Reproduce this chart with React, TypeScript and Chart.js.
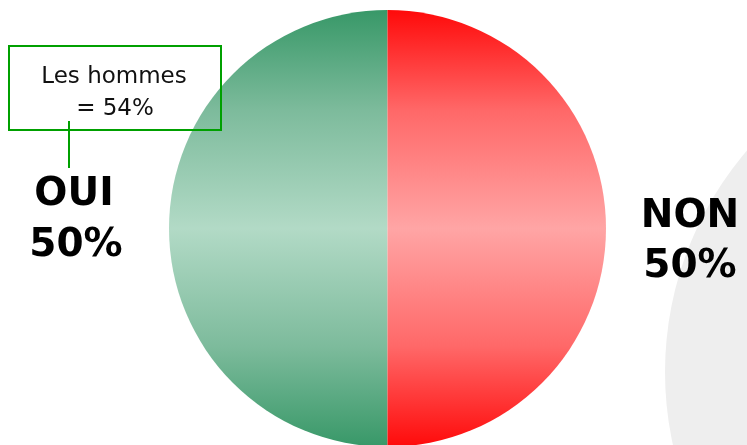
import React, { useEffect, useRef } from "react";
import { Chart, registerables } from "chart.js";

Chart.register(...registerables);

const categories = ["OUI", "NON"];
const values = [50, 50];
const valueLabels = ["50%", "50%"];
const annotationLines = ["Les hommes", "= 54%"];

const greenStops: [number, string][] = [
  [0, "#389868"],
  [0.23, "#7dbb9c"],
  [0.5, "#b2dac6"],
  [0.77, "#7dbb9c"],
  [1, "#389868"],
];
const redStops: [number, string][] = [
  [0, "#ff0a0a"],
  [0.23, "#ff6868"],
  [0.5, "#ffa5a5"],
  [0.77, "#ff6868"],
  [1, "#ff0a0a"],
];

export default function App() {
  const ref = useRef<HTMLCanvasElement | null>(null);

  useEffect(() => {
    const canvas = ref.current;
    if (!canvas) return;

    const bgPlugin = {
      id: "bgCircle",
      beforeDraw(chart: any) {
        const c = chart.ctx;
        c.save();
        c.fillStyle = "#eeeeee";
        c.beginPath();
        c.arc(1005, 372, 340, 0, Math.PI * 2);
        c.fill();
        c.restore();
      },
    };

    const labelPlugin = {
      id: "labels",
      afterDraw(chart: any) {
        const c = chart.ctx;
        c.save();
        c.fillStyle = "#000";
        c.textAlign = "center";
        c.textBaseline = "alphabetic";
        c.font = "bold 39px 'DejaVu Sans'";
        c.fillText(categories[0], 74, 205);
        c.fillText(valueLabels[0], 76, 256);
        c.fillText(categories[1], 690, 227);
        c.fillText(valueLabels[1], 690, 277);

        // annotation box
        c.strokeStyle = "#00a000";
        c.lineWidth = 2;
        c.strokeRect(9, 46, 212, 84);
        c.beginPath();
        c.moveTo(69, 121);
        c.lineTo(69, 168);
        c.stroke();
        c.fillStyle = "#111";
        c.font = "23px 'DejaVu Sans'";
        c.fillText(annotationLines[0], 114, 83);
        c.fillText(annotationLines[1], 115, 115);
        c.restore();
      },
    };

    const makeGrad = (chart: any, stops: [number, string][]) => {
      const area = chart.chartArea;
      if (!area) return stops[2][1];
      const g = chart.ctx.createLinearGradient(0, area.top, 0, area.bottom);
      stops.forEach(([o, col]) => g.addColorStop(o, col));
      return g;
    };

    const chart = new Chart(canvas, {
      type: "pie",
      data: {
        labels: categories,
        datasets: [
          {
            data: values,
            backgroundColor: (ctx: any) =>
              makeGrad(ctx.chart, ctx.dataIndex === 0 ? greenStops : redStops),
            borderWidth: 0,
          },
        ],
      },
      options: {
        responsive: false,
        animation: false,
        rotation: 180,
        layout: { padding: { top: 10, bottom: 0, left: 28, right: 0 } },
        plugins: {
          legend: { display: false },
          tooltip: { enabled: false },
        },
      },
      plugins: [bgPlugin, labelPlugin],
    });

    return () => chart.destroy();
  }, []);

  return (
    <div style={{ position: "fixed", left: 0, top: 0, width: 747, height: 445, overflow: "hidden", background: "#fff" }}>
      <canvas ref={ref} width={747} height={447} style={{ display: "block", width: 747, height: 447 }} />
    </div>
  );
}
